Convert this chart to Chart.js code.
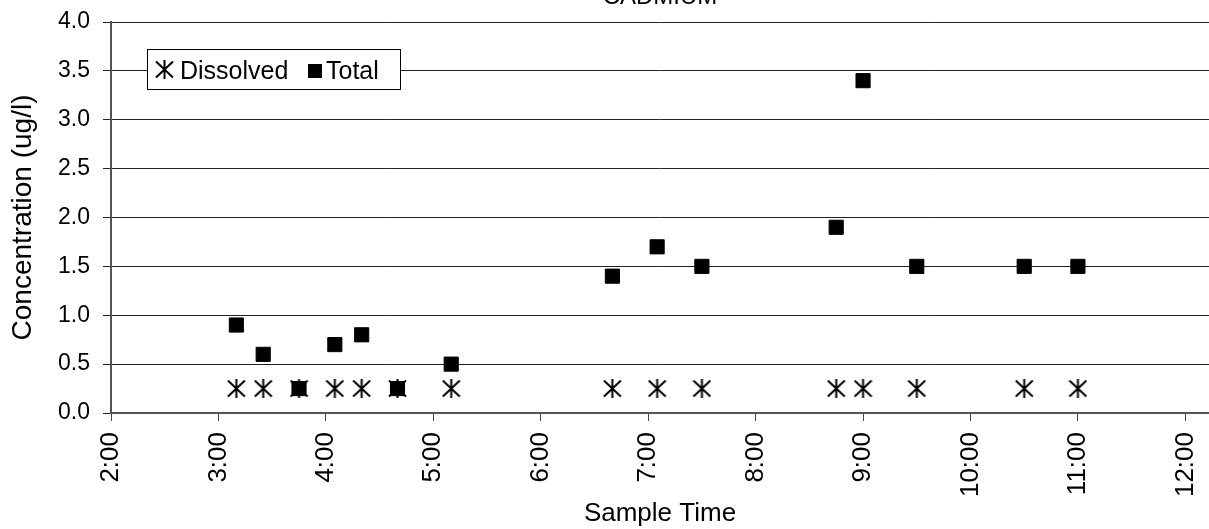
<!DOCTYPE html>
<html>
<head>
<meta charset="utf-8">
<title>Cadmium</title>
<script src="https://cdn.jsdelivr.net/npm/chart.js@4.4.1/dist/chart.umd.min.js"></script>
<style>
  html, body { margin: 0; padding: 0; background: #fff; }
  #wrap { width: 1209px; height: 529px; position: relative; }
</style>
</head>
<body>
<div id="wrap"><canvas id="myChart"></canvas></div>
<script>
// values
var sampleTimes = ['3:10', '3:25', '3:45', '4:05', '4:20', '4:40', '5:10', '6:40', '7:05', '7:30', '8:45', '9:00', '9:30', '10:30', '11:00'];
var dissolved = [0.25, 0.25, 0.25, 0.25, 0.25, 0.25, 0.25, 0.25, 0.25, 0.25, 0.25, 0.25, 0.25, 0.25, 0.25];
var total = [0.9, 0.6, 0.25, 0.7, 0.8, 0.25, 0.5, 1.4, 1.7, 1.5, 1.9, 3.4, 1.5, 1.5, 1.5];
var xTickHours = [2, 3, 4, 5, 6, 7, 8, 9, 10, 11, 12];

var FONT = '"Liberation Sans", Arial, sans-serif';

function toHours(t) {
    var p = t.split(':');
    return parseInt(p[0], 10) + parseInt(p[1], 10) / 60;
}

function toPoints(times, values) {
    return times.map(function (t, i) { return { x: toHours(t), y: values[i] }; });
}

// six armed asterisk marker (Chart.js has no such point style)
function makeAsterisk(size) {
    var c = document.createElement('canvas');
    c.width = size;
    c.height = size;
    var g = c.getContext('2d');
    g.strokeStyle = '#000';
    g.lineWidth = 2;
    g.beginPath();
    g.moveTo(size / 2, 0);
    g.lineTo(size / 2, size);
    g.moveTo(1, 1.5);
    g.lineTo(size - 1, size - 1.5);
    g.moveTo(1, size - 1.5);
    g.lineTo(size - 1, 1.5);
    g.stroke();
    return c;
}
var asterisk = makeAsterisk(19);

var titlePlugin = {
    id: 'cutTitle',
    afterDraw: function (chart) {
        var ctx = chart.ctx;
        ctx.save();
        ctx.fillStyle = '#000';
        ctx.font = '24px ' + FONT;
        ctx.textAlign = 'center';
        ctx.textBaseline = 'alphabetic';
        ctx.fillText('CADMIUM', 660, 4);
        ctx.restore();
    }
};

var boxLegend = {
    id: 'boxLegend',
    afterDraw: function (chart) {
        var ctx = chart.ctx;
        ctx.save();
        ctx.fillStyle = '#fff';
        ctx.fillRect(147, 49, 253, 40);
        ctx.strokeStyle = '#000';
        ctx.lineWidth = 1;
        ctx.strokeRect(147.5, 49.5, 253, 40);
        ctx.drawImage(asterisk, 155, 60);
        ctx.fillStyle = '#000';
        ctx.fillRect(308, 64, 14, 14);
        ctx.font = '25px ' + FONT;
        ctx.textBaseline = 'alphabetic';
        ctx.textAlign = 'left';
        ctx.fillText('Dissolved', 180, 79);
        ctx.fillText('Total', 326, 79);
        ctx.restore();
    }
};

Chart.defaults.font.family = FONT;
Chart.defaults.color = '#000';

var ctx = document.getElementById('myChart');
var myChart = new Chart(ctx, {
    type: 'scatter',
    data: {
        datasets: [
            {
                label: 'Dissolved',
                data: toPoints(sampleTimes, dissolved),
                pointStyle: asterisk,
                pointRadius: 9,
                pointHoverRadius: 9
            },
            {
                label: 'Total',
                data: toPoints(sampleTimes, total),
                pointStyle: 'rect',
                pointRadius: 10,
                pointHoverRadius: 10,
                backgroundColor: '#000',
                borderColor: '#000',
                borderWidth: 1
            }
        ]
    },
    options: {
        responsive: true,
        maintainAspectRatio: false,
        animation: false,
        devicePixelRatio: 1,
        layout: { autoPadding: false, padding: { top: 22, left: 0, right: 0, bottom: 0 } },
        plugins: {
            legend: { display: false },
            title: { display: false },
            tooltip: { enabled: false }
        },
        scales: {
            x: {
                type: 'linear',
                min: 2,
                max: 12.22,
                border: { color: '#555', width: 2 },
                grid: { drawOnChartArea: false, drawTicks: true, tickLength: 8, color: '#444' },
                ticks: {
                    autoSkip: false,
                    minRotation: 90,
                    maxRotation: 90,
                    padding: 11,
                    font: { size: 26 },
                    callback: function (value) { return value + ':00'; }
                },
                afterBuildTicks: function (scale) {
                    scale.ticks = xTickHours.map(function (v) { return { value: v }; });
                },
                afterFit: function (scale) {
                    scale.height = 116;
                    scale.paddingLeft = 0;
                    scale.paddingRight = 0;
                },
                title: {
                    display: true,
                    text: 'Sample Time',
                    font: { size: 26 },
                    padding: { top: 0, bottom: 0 }
                }
            },
            y: {
                min: 0,
                max: 4,
                border: { color: '#555', width: 2 },
                grid: { color: '#222', lineWidth: 1, tickLength: 8 },
                ticks: {
                    stepSize: 0.5,
                    padding: 13,
                    font: { size: 23 },
                    callback: function (value) { return value.toFixed(1); }
                },
                afterFit: function (scale) {
                    scale.width = 111;
                    scale.paddingTop = 0;
                    scale.paddingBottom = 0;
                },
                title: {
                    display: true,
                    text: 'Concentration (ug/l)',
                    font: { size: 28 },
                    padding: { top: 6, bottom: 0 }
                }
            }
        }
    },
    plugins: [titlePlugin, boxLegend]
});
</script>
</body>
</html>
